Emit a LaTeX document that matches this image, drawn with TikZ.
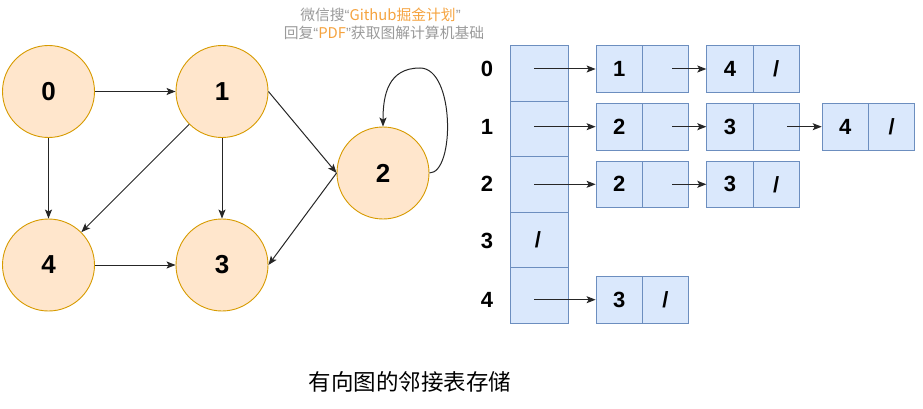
\documentclass[tikz,border=0pt]{standalone}
\usepackage{fontspec}
\setmainfont{Liberation Sans}
\newfontfamily\cjk{Noto Sans CJK SC}
\newfontfamily\latq{Liberation Sans}
\usetikzlibrary{arrows.meta}
\definecolor{cfill}{HTML}{FFE6CC}
\definecolor{cdraw}{HTML}{D79B00}
\definecolor{tfill}{HTML}{DAE8FC}
\definecolor{tdraw}{HTML}{6C8EBF}
\definecolor{wmgray}{HTML}{9A9A9A}
\definecolor{wmorange}{HTML}{F5A33F}
\begin{document}
\begin{tikzpicture}[x=1pt,y=-1pt,
  vert/.style={circle,draw=cdraw,fill=cfill,line width=0.9pt,minimum size=92pt,inner sep=0pt,font=\fontsize{26}{26}\selectfont\bfseries},
  cell/.style={draw=tdraw,fill=tfill,line width=0.9pt,minimum width=46.3pt,minimum height=46.7pt,inner sep=0pt,font=\fontsize{22}{22}\selectfont\bfseries},
  arrcell/.style={draw=tdraw,fill=tfill,line width=0.9pt,minimum width=58pt,minimum height=55.5pt,inner sep=0pt},
  lbl/.style={inner sep=0pt,font=\fontsize{22}{22}\selectfont\bfseries},
  arr/.style={-{Stealth[length=9pt,width=7pt,inset=2pt]},line width=1pt,draw=black!85},
]
\useasboundingbox (0,0) rectangle (923,409);

% watermark
\node[inner sep=0pt,font=\cjk\fontsize{14.8}{14.8}\selectfont,text=wmgray] (wm1) at (380.5,15) {微信搜{\latq “}\textcolor{wmorange}{Github掘金计划}{\latq ”}};
\node[inner sep=0pt,font=\cjk\fontsize{14.8}{14.8}\selectfont,text=wmgray] (wm2) at (384,33) {回复{\latq “}\textcolor{wmorange}{PDF}{\latq ”}获取图解计算机基础};

% graph
\node[vert] (v0) at (48.5,91.5) {0};
\node[vert] (v1) at (222,91.5) {1};
\node[vert] (v2) at (383,173) {2};
\node[vert] (v4) at (48.5,265) {4};
\node[vert] (v3) at (222,265) {3};

\draw[arr] (v0) -- (v1);
\draw[arr] (v0) -- (v4);
\draw[arr] (v1) -- (v3);
\draw[arr] (v4) -- (v3);
\draw[arr] (v1.south west) -- (v4.north east);
\draw[arr] (v1.east) -- (v2.west);
\draw[arr] (v2.west) -- (v3.east);
\draw[arr] (v2.east) .. controls (455,173) and (455,68) .. (420,68)
                     .. controls (388,68) and (383,95) .. (v2.north);

% array
\foreach \i/\y in {0/73.45,1/128.95,2/184.45,3/239.95,4/295.45}{
  \node[arrcell] (a\i) at (539.7,\y) {};
}
\node[lbl] (l0) at (487,69) {0};
\node[lbl] (l1) at (487,126.7) {1};
\node[lbl] (l2) at (487,184.3) {2};
\node[lbl] (l3) at (487,240.5) {3};
\node[lbl] (l4) at (487,299.7) {4};
\node[lbl] (nil3) at (538,240) {/};

% lists
\node[cell] (d01) at (619.2,69) {1};
\node[cell] (p01) at (665.5,69) {};
\node[cell] (d02) at (729.9,69) {4};
\node[cell] (p02) at (776.2,69) {/};

\node[cell] (d11) at (619.2,126.7) {2};
\node[cell] (p11) at (665.5,126.7) {};
\node[cell] (d12) at (729.9,126.7) {3};
\node[cell] (p12) at (776.2,126.7) {};
\node[cell] (d13) at (845.3,126.7) {4};
\node[cell] (p13) at (891.6,126.7) {/};

\node[cell] (d21) at (619.2,184.3) {2};
\node[cell] (p21) at (665.5,184.3) {};
\node[cell] (d22) at (729.9,184.3) {3};
\node[cell] (p22) at (776.2,184.3) {/};

\node[cell] (d41) at (619.2,299.7) {3};
\node[cell] (p41) at (665.5,299.7) {/};

% pointer start points
\coordinate (s0) at (534,69);
\coordinate (s1) at (534,126.7);
\coordinate (s2) at (534,184.3);
\coordinate (s4) at (534,299.7);
\coordinate (q01) at (672.3,69);
\coordinate (q11) at (672.3,126.7);
\coordinate (q12) at (787.3,126.7);
\coordinate (q21) at (672.3,184.3);

\draw[arr] (s0) -- (d01.west);
\draw[arr] (s1) -- (d11.west);
\draw[arr] (s2) -- (d21.west);
\draw[arr] (s4) -- (d41.west);
\draw[arr] (q01) -- (d02.west);
\draw[arr] (q11) -- (d12.west);
\draw[arr] (q12) -- (d13.west);
\draw[arr] (q21) -- (d22.west);

% caption
\node[inner sep=0pt,font=\cjk\fontsize{22.5}{22.5}\selectfont] (cap) at (410,382) {有向图的邻接表存储};
\end{tikzpicture}
\end{document}
